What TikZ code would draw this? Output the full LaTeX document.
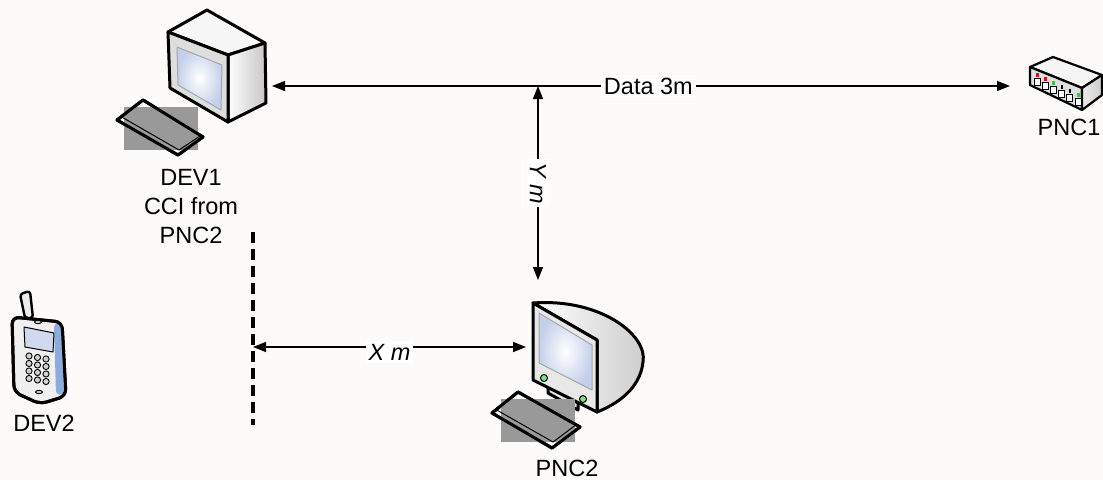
\documentclass[tikz,border=0pt]{standalone}
\usepackage{fontspec}
\setmainfont{Liberation Sans}
\usetikzlibrary{arrows.meta,positioning}

\definecolor{bgpaper}{RGB}{252,251,249}
\definecolor{keygrey}{RGB}{153,153,153}
\definecolor{screenblue}{RGB}{196,208,234}
\definecolor{casegrey}{RGB}{222,222,222}
\definecolor{ledgreen}{RGB}{40,210,40}
\definecolor{phoneblue}{RGB}{140,172,222}

\tikzset{
  casing/.style={draw=black, line width=3pt, line join=round},
  thinedge/.style={draw=black, line width=1pt, line join=round},
  devtext/.style={font=\fontsize{23.5}{29}\selectfont, align=center},
  dimline/.style={<->, line width=1.4pt},
  lbl/.style={fill=white, inner sep=3pt, font=\fontsize{23.5}{29}\selectfont},
  >={Triangle[length=13pt,width=10pt]}
}

\begin{document}
\begin{tikzpicture}[x=1pt,y=-1pt]
\fill[bgpaper] (0,0) rectangle (1103,480);
\useasboundingbox (0,0) rectangle (1103,480);

% DEV1 computer
\path[casing, fill=gray!6] (168,32) -- (207,10) -- (265,43) -- (228,55) -- cycle;
\path[casing, left color=white, right color=gray!45] (228,55) -- (265,43) -- (266,103) -- (228,122) -- cycle;
\path[casing, fill=casegrey] (168,32) -- (228,55) -- (228,122) -- (170,88) -- cycle;
\path[thinedge, draw=gray!70, inner color=white, outer color=screenblue] (177,47) -- (222,65) -- (221,110) -- (178,85) -- cycle;
\path[casing, fill=white] (117,120) -- (143,100) -- (203,137) -- (178,155) -- cycle;
\fill[keygrey] (124,107) rectangle (198,150);
\draw[casing] (117,120) -- (143,100) -- (203,137) -- (178,155) -- cycle;
\draw[thinedge] (120,116) -- (179,150) -- (200,136);

% PNC1 hub
\path[casing, line width=2.2pt, fill=gray!8] (1030,67) -- (1053,57) -- (1102,75) -- (1082,88) -- cycle;
\path[casing, line width=2.2pt, fill=gray!25] (1030,67) -- (1082,88) -- (1082,110) -- (1030,85) -- cycle;
\path[casing, line width=2.2pt, left color=gray!15, right color=gray!40] (1082,88) -- (1102,75) -- (1102,95) -- (1082,110) -- cycle;
\foreach \i/\c in {0/red,1/red,2/ledgreen,3/black,4/black,5/ledgreen} {
  \draw[line width=0.7pt, fill=white] (1034+\i*8.2,78+\i*4) rectangle ++(6,7);
  \fill[\c] (1036+\i*8.2,73+\i*4) rectangle ++(2.5,4);
}

% PNC2 computer
\path[casing, left color=white, right color=gray!40] (533,303) .. controls (600,298) and (648,335) .. (643,362) .. controls (640,390) and (615,405) .. (597,412) -- (597,340) -- cycle;
\path[casing, fill=casegrey!70] (548,386) -- (578,403) -- (578,410) -- (548,393) -- cycle;
\path[casing, fill=casegrey!70] (533,303) -- (597,340) -- (597,412) -- (533,380) -- cycle;
\path[thinedge, draw=gray!70, inner color=white, outer color=screenblue] (539,313) -- (592,345) -- (592,390) -- (539,363) -- cycle;
\draw[thinedge, fill=ledgreen!60] (544,378) circle (3.5pt);
\draw[thinedge, fill=ledgreen!60] (583,399) circle (3.5pt);
\path[casing, fill=white] (492,413) -- (518,392) -- (580,427) -- (552,448) -- cycle;
\fill[keygrey] (501,399) rectangle (575,442);
\draw[casing] (492,413) -- (518,392) -- (580,427) -- (552,448) -- cycle;
\draw[thinedge] (495,409) -- (553,442) -- (577,424);

% DEV2 phone
\path[casing, line width=2.4pt, fill=gray!15, rounded corners=3pt] (20,294) -- (30,291) -- (33,318) -- (25,318) -- cycle;
\path[casing, fill=gray!12, rounded corners=7pt] (12,317) -- (62,322) -- (66,396) -- (40,404) -- (14,392) -- cycle;
\fill[phoneblue, rounded corners=4pt] (54,323) -- (62,324) -- (64,394) -- (56,395) -- cycle;
\draw[casing, rounded corners=7pt] (12,317) -- (62,322) -- (66,396) -- (40,404) -- (14,392) -- cycle;
\path[thinedge, fill=screenblue!80] (24,327) -- (54,333) -- (53,352) -- (25,347) -- cycle;
\draw[thinedge, fill=gray!30] (38,322) ellipse (3.5pt and 1.6pt);
\foreach \r in {0,...,3}
  \foreach \c in {0,...,2}
    \draw[thinedge, line width=0.9pt, fill=gray!35] (29+\c*8.5,356+\r*7.5+\c*1.5) circle (3.1pt);
\draw[thinedge, fill=gray!30] (39,392) ellipse (3.5pt and 1.6pt);

% labels
\node[devtext] (dev1lbl) at (191,207) {DEV1\\CCI from\\PNC2};
\node[devtext] (pnc1lbl) at (1069,127) {PNC1};
\node[devtext] (pnc2lbl) at (567,468) {PNC2};
\node[devtext] (dev2lbl) at (44,423) {DEV2};

% distances
\coordinate (dev1port) at (272,86);
\coordinate (pnc1port) at (1010,86);
\coordinate (ytop) at (538,86);
\coordinate (ybot) at (538,280);
\coordinate (xleft) at (253,347);
\coordinate (xright) at (526,347);
\coordinate (cuttop) at (253,232);
\coordinate (cutbot) at (253,425);

\path[dimline] (dev1port) edge node[lbl, pos=0.51] {Data 3m} (pnc1port)
               (ytop) edge node[lbl, rotate=-90] {\itshape Y m} (ybot)
               (xleft) edge node[lbl, yshift=-5pt] {\itshape X m} (xright);
\draw[line width=3.5pt, dash pattern=on 11pt off 6pt] (cuttop) -- (cutbot);
\end{tikzpicture}
\end{document}
